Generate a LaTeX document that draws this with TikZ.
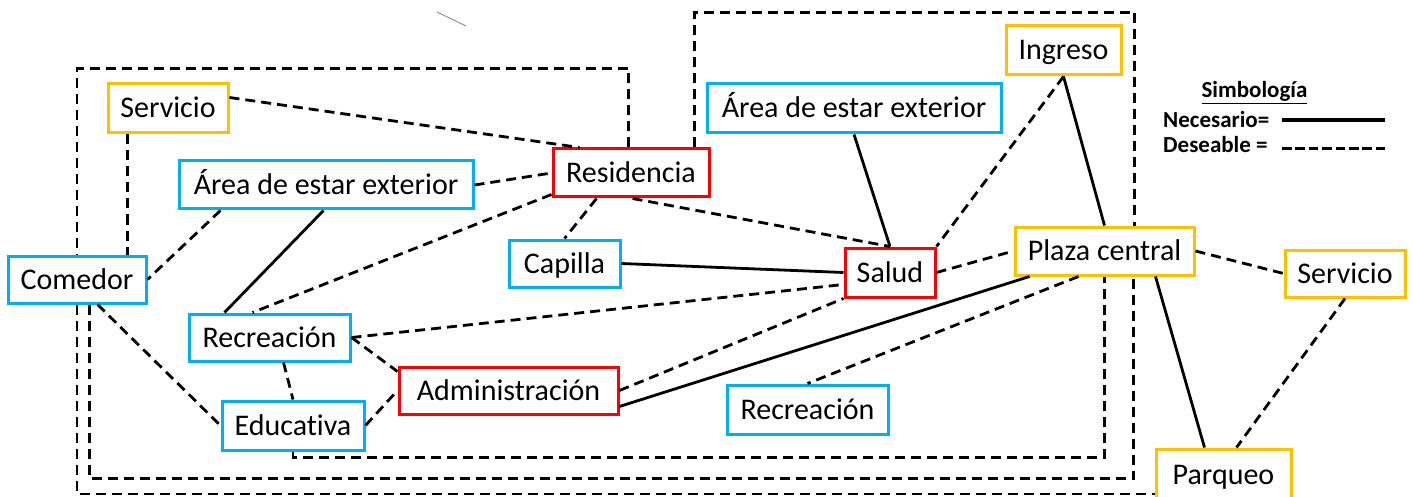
\documentclass[tikz,border=0pt]{standalone}
\usepackage{fontspec}
\setmainfont[Ligatures=NoCommon]{Carlito}
\usetikzlibrary{calc}
\definecolor{cOr}{HTML}{FFC000}
\definecolor{cBl}{HTML}{00B0F0}
\definecolor{cRd}{HTML}{FF0000}
\begin{document}
\begin{tikzpicture}[x=1pt,y=-1pt,
  box/.style={draw, line width=3pt, fill=white, inner sep=0pt, text height=19pt, text depth=0pt, font=\fontsize{30}{36}\selectfont},
  orbox/.style={box, draw=cOr},
  blbox/.style={box, draw=cBl},
  rdbox/.style={box, draw=cRd},
  nec/.style={line width=2.8pt},
  des/.style={line width=2.8pt, dash pattern=on 10pt off 6pt},
  legdes/.style={line width=3pt, dash pattern=on 9.5pt off 3.9pt},
  legtext/.style={font=\bfseries\fontsize{23}{27}\selectfont, inner sep=0pt}
]
\useasboundingbox (0,0) rectangle (1413,497);

% nodes
\node[orbox, minimum width=120pt, minimum height=49pt] (serv1) at (168,108.5) {Servicio};
\node[blbox, minimum width=294pt, minimum height=48pt] (area1) at (326,185) {Área de estar exterior};
\node[rdbox, minimum width=156pt, minimum height=48pt] (resid) at (631,173) {Residencia};
\node[blbox, minimum width=138pt, minimum height=47pt] (comedor) at (77,279.5) {Comedor};
\node[blbox, minimum width=111pt, minimum height=47pt] (capilla) at (564.5,263.5) {Capilla};
\node[blbox, minimum width=161pt, minimum height=47pt] (recre1) at (269.5,337.5) {Recreación};
\node[rdbox, minimum width=219pt, minimum height=47pt] (admin) at (508.5,390.5) {Administración};
\node[blbox, minimum width=142pt, minimum height=49pt] (educ) at (293,425.5) {Educativa};
\node[rdbox, minimum width=90pt, minimum height=49pt] (salud) at (890,272.5) {Salud};
\node[blbox, minimum width=294pt, minimum height=49pt] (area2) at (854,108.5) {Área de estar exterior};
\node[orbox, minimum width=115pt, minimum height=49pt] (ingreso) at (1063.5,50.5) {Ingreso};
\node[orbox, minimum width=179pt, minimum height=48pt] (plaza) at (1104.5,251) {Plaza central};
\node[orbox, minimum width=120pt, minimum height=47pt] (serv2) at (1345,273.5) {Servicio};
\node[blbox, minimum width=161pt, minimum height=49pt] (recre2) at (807.5,409.5) {Recreación};
\node[orbox, minimum width=135pt, minimum height=52pt] (parqueo) at (1223.5,475) {Parqueo};

% connectors
\draw[des] ([yshift=11pt]serv1.east) -- ([xshift=28pt]resid.north west);
\draw[des] ([xshift=21pt]serv1.south west) -- ([xshift=21pt]serv1.south west |- comedor.north);
\draw[des] (area1.east) -- (resid.west);
\draw[des] ([xshift=43pt]area1.south west) -- (comedor.east);
\draw[nec] ([xshift=146pt]area1.south west) -- ([xshift=37pt]recre1.north west);
\draw[des] ([yshift=4pt]resid.south west) -- ([xshift=65pt]recre1.north west);
\draw[des] ([xshift=45pt]resid.south west) -- (capilla.north);
\draw[des] ([xshift=81pt]resid.south west) -- (salud.north);
\draw[nec] (area2.south) -- (salud.north);
\draw[des] (ingreso.south) -- (salud.north east);
\draw[nec] (ingreso.south) -- (plaza.north);
\draw[nec] (capilla.east) -- (salud.west);
\draw[des] (recre1.east) -- ([yshift=-12pt]salud.west);
\draw[des] (recre1.east) -- ([yshift=-6pt]admin.north west);
\draw[des] ([xshift=96pt]recre1.south west) -- (educ.north);
\draw[des] ([xshift=91pt]comedor.south west) -- (educ.west);
\draw[des] (educ.east) -- (admin.west);
\draw[des] (admin.east) -- (salud.south west);
\draw[nec] ([yshift=-16pt]admin.east) -- ([xshift=16pt]plaza.south west);
\draw[des] ([xshift=65pt]plaza.south west) -- (recre2.north);
\draw[des] (salud.east) -- (plaza.west);
\draw[des] (plaza.east) -- (serv2.west);
\draw[nec] ([xshift=142pt]plaza.south west) -- ([xshift=50pt]parqueo.north west);
\draw[des] (serv2.south) -- ([xshift=82pt]parqueo.north west);

% dashed enclosures
\draw[des] (educ.south) -- ([yshift=-6pt]educ.south) -| (plaza.south);
\draw[des] ([xshift=83pt]comedor.south west) -- ++(0,-174pt) -| ([xshift=120pt]plaza.south west);
\draw[des] ([xshift=77pt]resid.north west) -- ++(0,79pt) -| (comedor.north);
\draw[des] (comedor.south) |- ([yshift=-19pt]parqueo.west);
\draw[des] ([xshift=143pt]resid.north west) -- ++(0,135pt) -| ([xshift=121pt]plaza.north west);

% stray mark
\draw[gray, line width=0.8pt] (437,12) -- (466,26);

% legend
\node[legtext, anchor=base] (simb) at (1254.5,98) {\underline{Simbología}};
\node[legtext, anchor=base west] (necl) at (1163,128) {Necesario=};
\node[legtext, anchor=base west] (desl) at (1163,153) {Deseable =};
\coordinate (n1) at (1282,120);
\coordinate (n2) at (1385,120);
\coordinate (d1) at (1282,149);
\coordinate (d2) at (1385,149);
\draw[line width=3.2pt] (n1) -- (n2);
\draw[legdes] (d1) -- (d2);
\end{tikzpicture}
\end{document}
